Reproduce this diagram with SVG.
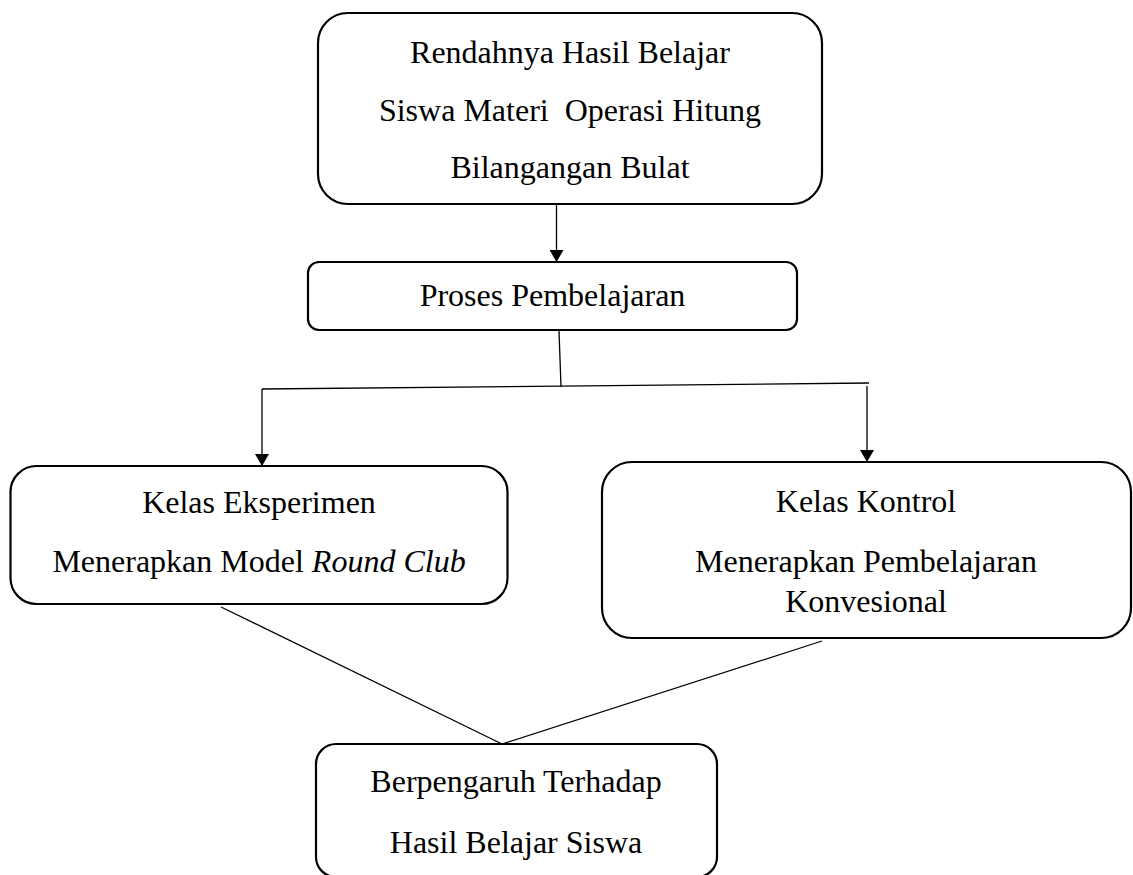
<svg xmlns="http://www.w3.org/2000/svg" width="1133" height="875" viewBox="0 0 1133 875">
<style>
.box{fill:#fff;stroke:#000;stroke-width:2.2}
.t{font-family:"Liberation Serif","Times New Roman",serif;font-size:32px;fill:#000;text-anchor:middle}
.c{fill:none;stroke:#000;stroke-width:1.3}
</style>
<defs>
<marker id="ah" viewBox="0 0 12 14" refX="12" refY="7" markerWidth="12" markerHeight="14" markerUnits="userSpaceOnUse" orient="auto">
<path d="M0,0 L12,7 L0,14 Z" fill="#000"/>
</marker>
</defs>
<rect width="1133" height="875" fill="#fff"/>
<g id="connectors">
<line class="c" x1="556.5" y1="205" x2="556.5" y2="262" marker-end="url(#ah)"/>
<line class="c" x1="559" y1="331" x2="561" y2="387"/>
<line class="c" x1="262" y1="389" x2="869" y2="383"/>
<line class="c" x1="262" y1="389" x2="262" y2="466" marker-end="url(#ah)"/>
<line class="c" x1="867" y1="386" x2="867" y2="462" marker-end="url(#ah)"/>
<line class="c" x1="221" y1="607" x2="502" y2="744"/>
<line class="c" x1="822" y1="641" x2="502" y2="744"/>
</g>
<g id="node-rendahnya">
<rect class="box" x="318" y="13" width="504" height="191" rx="30"/>
<text class="t" x="570" y="63">Rendahnya Hasil Belajar</text>
<text class="t" x="570" y="121" xml:space="preserve">Siswa Materi  Operasi Hitung</text>
<text class="t" x="570" y="178">Bilangangan Bulat</text>
</g>
<g id="node-proses">
<rect class="box" x="308" y="262" width="489" height="68" rx="11"/>
<text class="t" x="552.5" y="306">Proses Pembelajaran</text>
</g>
<g id="node-eksperimen">
<rect class="box" x="10.5" y="466" width="497" height="138" rx="26"/>
<text class="t" x="259" y="513">Kelas Eksperimen</text>
<text class="t" x="259" y="572">Menerapkan Model <tspan font-style="italic">Round Club</tspan></text>
</g>
<g id="node-kontrol">
<rect class="box" x="602" y="462" width="529" height="176" rx="30"/>
<text class="t" x="866" y="512">Kelas Kontrol</text>
<text class="t" x="866" y="572">Menerapkan Pembelajaran</text>
<text class="t" x="866" y="612">Konvesional</text>
</g>
<g id="node-berpengaruh">
<rect class="box" x="316" y="744" width="401" height="133" rx="20"/>
<text class="t" x="516" y="792">Berpengaruh Terhadap</text>
<text class="t" x="516" y="853">Hasil Belajar Siswa</text>
</g>
</svg>
